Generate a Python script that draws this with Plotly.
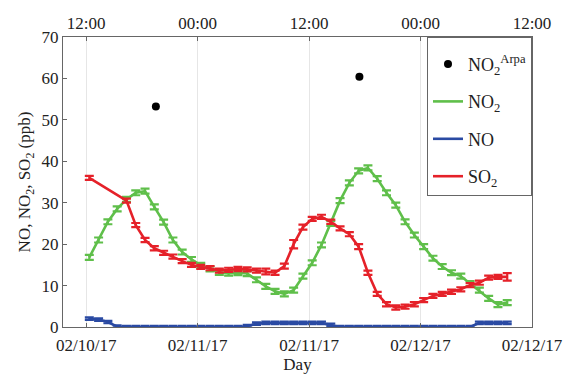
import pandas as pd
import plotly.graph_objects as go

# hourly sampling times
times = pd.date_range("2017-02-10 12:20", periods=46, freq="h")

no2 = [16.8, 21.0, 25.4, 28.5, 30.8, 32.4, 32.8, 29.0, 25.3, 21.0,
       18.1, 16.3, 14.9, 14.0, 13.2, 13.0, 13.1, 12.9, 11.4, 9.8,
       8.6, 8.0, 8.9, 12.3, 15.5, 19.8, 25.0, 30.5, 34.8, 37.7,
       38.4, 35.8, 32.4, 29.4, 25.4, 22.2, 19.4, 16.6, 14.6, 13.1,
       12.3, 10.5, 8.9, 6.9, 5.4, 5.9]
no2_err = [0.6] * 46

so2 = [36.0, None, None, None, 30.5, 24.6, 21.0, 19.0, 17.9, 17.0,
       15.9, 15.0, 14.5, 14.2, 13.6, 13.8, 14.0, 13.9, 13.6, 13.4,
       13.1, 14.7, 20.0, 24.1, 26.1, 26.6, 25.4, 23.8, 22.4, 19.4,
       13.1, 8.0, 5.5, 4.7, 4.9, 5.5, 6.5, 7.5, 8.0, 8.5,
       9.1, 10.1, 10.7, 11.9, 12.1, 12.1]
so2_err = [0.5, 0, 0, 0, 0.5, 0.5, 0.5, 0.5, 0.5, 0.5,
           0.5, 0.5, 0.5, 0.5, 0.5, 0.5, 0.5, 0.5, 0.5, 0.7,
           0.5, 0.6, 1.0, 0.6, 0.5, 0.5, 0.5, 0.5, 0.5, 0.6,
           0.5, 0.5, 0.5, 0.5, 0.5, 0.5, 0.5, 0.5, 0.5, 0.5,
           0.5, 0.5, 0.5, 0.5, 0.5, 0.9]

no = [2.0, 1.8, 1.2, 0.1, 0.0, 0.0, 0.0, 0.0, 0.0, 0.0,
      0.0, 0.0, 0.0, 0.0, 0.0, 0.0, 0.0, 0.2, 0.8, 1.0,
      1.0, 1.0, 1.0, 1.0, 1.0, 1.0, 0.5, 0.0, 0.0, 0.0,
      0.0, 0.0, 0.0, 0.0, 0.0, 0.0, 0.0, 0.0, 0.0, 0.0,
      0.0, 0.0, 1.0, 1.0, 1.0, 1.0]
no_err = [0.3] * 46

arpa_times = ["2017-02-10 19:30", "2017-02-11 17:25"]
arpa_no2 = [53.2, 60.4]

tick_times = ["2017-02-10 12:00", "2017-02-11 00:00", "2017-02-11 12:00",
              "2017-02-12 00:00", "2017-02-12 12:00"]
bottom_labels = ["02/10/17", "02/11/17", "02/11/17", "02/12/17", "02/12/17"]
top_labels = ["12:00", "00:00", "12:00", "00:00", "12:00"]

GREEN = "#5fbf4a"
BLUE = "#2a4aa3"
RED = "#e52129"
FONT = "Liberation Serif"

fig = go.Figure()
fig.add_trace(go.Scatter(
    x=arpa_times, y=arpa_no2, mode="markers", name="NO<sub>2</sub><sup>Arpa</sup>",
    legendgroup="a",
    marker=dict(color="black", size=8, symbol="circle")))
fig.add_trace(go.Scatter(
    x=times, y=no2, mode="lines", name="NO<sub>2</sub>", legendgroup="b",
    line=dict(color=GREEN, width=2.6),
    error_y=dict(type="data", array=no2_err, color=GREEN, thickness=2.2, width=4.5)))
fig.add_trace(go.Scatter(
    x=times, y=no, mode="lines", name="NO", legendgroup="c",
    line=dict(color=BLUE, width=2.6),
    error_y=dict(type="data", array=no_err, color=BLUE, thickness=2.2, width=4.5)))
fig.add_trace(go.Scatter(
    x=times, y=so2, mode="lines", name="SO<sub>2</sub>", connectgaps=True,
    legendgroup="d",
    line=dict(color=RED, width=2.6),
    error_y=dict(type="data", array=so2_err, color=RED, thickness=2.2, width=4.5)))
# invisible trace to carry the top axis
fig.add_trace(go.Scatter(x=tick_times, y=[None] * 5, xaxis="x2", showlegend=False,
                         hoverinfo="skip"))

xrange = ["2017-02-10 09:30", "2017-02-12 12:00"]
axis_common = dict(showline=True, linecolor="#666666", linewidth=1,
                   ticks="inside", ticklen=4, tickcolor="#666666", automargin=False,
                   tickfont=dict(family=FONT, size=17, color="#222222"))

fig.update_layout(
    width=568, height=374,
    margin=dict(l=63, r=36, t=37, b=47),
    plot_bgcolor="white", paper_bgcolor="white",
    font=dict(family=FONT, size=17, color="#222222"),
    showlegend=True,
    xaxis=dict(range=xrange, tickvals=tick_times, ticktext=bottom_labels,
               showgrid=True, gridcolor="#e6e6e6", gridwidth=1, zeroline=False,
               mirror=False, ticklabelstandoff=3,
               title=dict(text="Day", standoff=0, font=dict(family=FONT, size=17)),
               **axis_common),
    xaxis2=dict(range=xrange, tickvals=tick_times, ticktext=top_labels,
                overlaying="x", side="top", showgrid=False, zeroline=False,
                **axis_common),
    yaxis=dict(range=[0, 70], dtick=10, showgrid=False, zeroline=False,
               mirror=True,
               title=dict(text="NO, NO<sub>2</sub>, SO<sub>2</sub> (ppb)", standoff=6,
                          font=dict(family=FONT, size=17)),
               **axis_common),
    legend=dict(x=1, y=1, xanchor="right", yanchor="top",
                bgcolor="white", bordercolor="#666666", borderwidth=1,
                font=dict(family=FONT, size=18, color="#222222"),
                title=dict(text=" ", font=dict(size=6)),
                itemwidth=30, tracegroupgap=11, traceorder="grouped"),
)

fig.write_html("out.html")
